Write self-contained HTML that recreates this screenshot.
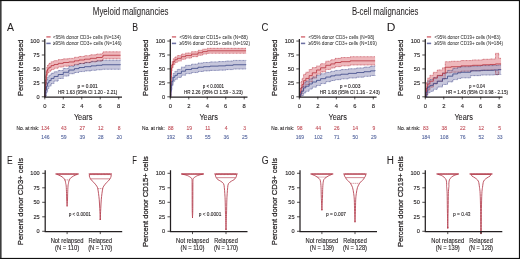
<!DOCTYPE html>
<html><head><meta charset="utf-8"><style>
html,body{margin:0;padding:0;background:#fff;}
svg{display:block;will-change:transform;}
text{font-family:"Liberation Sans", sans-serif;}
</style></head><body>
<svg width="520" height="259" viewBox="0 0 520 259">
<rect x="0" y="0" width="1.6" height="259" fill="#3c3c3c"/>
<rect x="0" y="0" width="520" height="1.1" fill="#111"/>
<rect x="518.9" y="0" width="1.1" height="259" fill="#111"/>
<rect x="0" y="257.9" width="520" height="1.1" fill="#111"/>
<text x="92.80" y="15.00" font-size="10.0" text-anchor="start" fill="#231f20" stroke="#231f20" stroke-width="0.05" textLength="75.7" lengthAdjust="spacingAndGlyphs">Myeloid malignancies</text>
<text x="351.90" y="14.60" font-size="10.0" text-anchor="start" fill="#231f20" stroke="#231f20" stroke-width="0.05" textLength="66.6" lengthAdjust="spacingAndGlyphs">B-cell malignancies</text>
<text transform="translate(6.97,30.9) scale(0.91,1)" font-size="11.5" fill="#231f20" stroke="#231f20" stroke-width="0.05">A</text>
<text transform="translate(22.80,67.75) rotate(-90)" font-size="7.6" text-anchor="middle" fill="#231f20" stroke="#231f20" stroke-width="0.25" textLength="56.5" lengthAdjust="spacingAndGlyphs">Percent relapsed</text>
<path d="M44.80,96.80L45.26,96.80L45.26,84.43L45.72,84.43L45.72,76.08L46.19,76.08L46.19,70.51L46.83,70.51L46.83,67.18L47.57,67.18L47.57,64.97L48.96,64.97L48.96,63.33L51.08,63.33L51.08,61.70L54.04,61.70L54.04,60.64L58.20,60.64L58.20,59.61L63.28,59.61L63.28,58.86L68.82,58.86L68.82,58.39L74.37,58.39L74.37,57.29L78.99,57.29L78.99,56.46L84.53,56.46L84.53,55.63L90.35,55.63L90.35,54.81L96.54,54.81L96.54,53.99L102.09,53.99L102.09,53.44L103.01,53.44L103.01,51.77L120.57,51.77L120.57,51.81L120.57,58.72L120.57,58.76L103.01,58.76L103.01,60.44L102.09,60.44L102.09,61.00L96.54,61.00L96.54,61.85L90.35,61.85L90.35,62.70L84.53,62.70L84.53,63.55L78.99,63.55L78.99,64.40L74.37,64.40L74.37,65.52L68.82,65.52L68.82,66.17L63.28,66.17L63.28,67.09L58.20,67.09L58.20,68.29L54.04,68.29L54.04,69.46L51.08,69.46L51.08,71.18L48.96,71.18L48.96,72.88L47.57,72.88L47.57,75.13L46.83,75.13L46.83,78.49L46.19,78.49L46.19,84.07L45.72,84.07L45.72,92.44L45.26,92.44L45.26,96.80L44.80,96.80Z" fill="#eeb8bc" fill-opacity="1"/>
<path d="M44.80,96.80L45.26,96.80L45.26,90.43L45.72,90.43L45.72,84.13L46.46,84.13L46.46,80.34L47.57,80.34L47.57,77.17L48.96,77.17L48.96,75.16L51.08,75.16L51.08,73.27L54.04,73.27L54.04,71.79L58.20,71.79L58.20,70.49L63.28,70.49L63.28,68.42L68.82,68.42L68.82,66.36L74.37,66.36L74.37,64.77L78.99,64.77L78.99,63.49L84.53,63.49L84.53,62.46L91.00,62.46L91.00,61.40L96.54,61.40L96.54,60.81L102.09,60.81L102.09,60.22L120.57,60.22L120.57,59.84L120.57,69.09L120.57,69.27L102.09,69.27L102.09,69.79L96.54,69.79L96.54,70.32L91.00,70.32L91.00,70.93L84.53,70.93L84.53,71.57L78.99,71.57L78.99,72.52L74.37,72.52L74.37,73.72L68.82,73.72L68.82,76.12L63.28,76.12L63.28,78.51L58.20,78.51L58.20,81.12L54.04,81.12L54.04,83.53L51.08,83.53L51.08,86.10L48.96,86.10L48.96,88.55L47.57,88.55L47.57,92.07L46.46,92.07L46.46,96.09L45.72,96.09L45.72,96.48L45.26,96.48L45.26,96.80L44.80,96.80Z" fill="#a4a4c6" fill-opacity="0.62"/>
<path d="M44.80,96.80L45.26,96.80L45.26,84.43L45.72,84.43L45.72,76.08L46.19,76.08L46.19,70.51L46.83,70.51L46.83,67.18L47.57,67.18L47.57,64.97L48.96,64.97L48.96,63.33L51.08,63.33L51.08,61.70L54.04,61.70L54.04,60.64L58.20,60.64L58.20,59.61L63.28,59.61L63.28,58.86L68.82,58.86L68.82,58.39L74.37,58.39L74.37,57.29L78.99,57.29L78.99,56.46L84.53,56.46L84.53,55.63L90.35,55.63L90.35,54.81L96.54,54.81L96.54,53.99L102.09,53.99L102.09,53.44L103.01,53.44L103.01,51.77L120.57,51.77L120.57,51.81" fill="none" stroke="#c94f5b" stroke-width="0.7" stroke-dasharray="0.9,0.5" style="mix-blend-mode:multiply"/>
<path d="M44.80,96.80L45.26,96.80L45.26,92.44L45.72,92.44L45.72,84.07L46.19,84.07L46.19,78.49L46.83,78.49L46.83,75.13L47.57,75.13L47.57,72.88L48.96,72.88L48.96,71.18L51.08,71.18L51.08,69.46L54.04,69.46L54.04,68.29L58.20,68.29L58.20,67.09L63.28,67.09L63.28,66.17L68.82,66.17L68.82,65.52L74.37,65.52L74.37,64.40L78.99,64.40L78.99,63.55L84.53,63.55L84.53,62.70L90.35,62.70L90.35,61.85L96.54,61.85L96.54,61.00L102.09,61.00L102.09,60.44L103.01,60.44L103.01,58.76L120.57,58.76L120.57,58.72" fill="none" stroke="#c94f5b" stroke-width="0.7" stroke-dasharray="0.9,0.5" style="mix-blend-mode:multiply"/>
<path d="M44.80,96.80L45.26,96.80L45.26,90.43L45.72,90.43L45.72,84.13L46.46,84.13L46.46,80.34L47.57,80.34L47.57,77.17L48.96,77.17L48.96,75.16L51.08,75.16L51.08,73.27L54.04,73.27L54.04,71.79L58.20,71.79L58.20,70.49L63.28,70.49L63.28,68.42L68.82,68.42L68.82,66.36L74.37,66.36L74.37,64.77L78.99,64.77L78.99,63.49L84.53,63.49L84.53,62.46L91.00,62.46L91.00,61.40L96.54,61.40L96.54,60.81L102.09,60.81L102.09,60.22L120.57,60.22L120.57,59.84" fill="none" stroke="#5c63a0" stroke-width="0.7" stroke-dasharray="0.9,0.5" style="mix-blend-mode:multiply"/>
<path d="M44.80,96.80L45.26,96.80L45.26,96.48L45.72,96.48L45.72,96.09L46.46,96.09L46.46,92.07L47.57,92.07L47.57,88.55L48.96,88.55L48.96,86.10L51.08,86.10L51.08,83.53L54.04,83.53L54.04,81.12L58.20,81.12L58.20,78.51L63.28,78.51L63.28,76.12L68.82,76.12L68.82,73.72L74.37,73.72L74.37,72.52L78.99,72.52L78.99,71.57L84.53,71.57L84.53,70.93L91.00,70.93L91.00,70.32L96.54,70.32L96.54,69.79L102.09,69.79L102.09,69.27L120.57,69.27L120.57,69.09" fill="none" stroke="#5c63a0" stroke-width="0.7" stroke-dasharray="0.9,0.5" style="mix-blend-mode:multiply"/>
<path d="M44.80,96.80H45.26V88.44H45.72V80.07H46.19V74.50H46.83V71.16H47.57V68.92H48.96V67.25H51.08V65.58H54.04V64.47H58.20V63.35H63.28V62.51H68.82V61.96H74.37V60.84H78.99V60.00H84.53V59.17H90.35V58.33H96.54V57.50H102.09V56.94H103.01V55.27H120.57V55.27" fill="none" stroke="#b8323e" stroke-width="0.8"/>
<path d="M44.80,96.80H45.26V93.45H45.72V90.11H46.46V86.21H47.57V82.86H48.96V80.63H51.08V78.40H54.04V76.45H58.20V74.50H63.28V72.27H68.82V70.04H74.37V68.65H78.99V67.53H84.53V66.69H91.00V65.86H96.54V65.30H102.09V64.74H120.57V64.47" fill="none" stroke="#3a4585" stroke-width="0.8"/>
<path d="M44.80,39.1V97.0H122.00" fill="none" stroke="#231f20" stroke-width="1.25"/>
<path d="M41.80,96.80H44.80" stroke="#231f20" stroke-width="0.8"/>
<text x="39.50" y="98.80" font-size="5.6" text-anchor="end" fill="#231f20" stroke="#231f20" stroke-width="0.12">0</text>
<path d="M41.80,82.86H44.80" stroke="#231f20" stroke-width="0.8"/>
<text x="39.50" y="84.86" font-size="5.6" text-anchor="end" fill="#231f20" stroke="#231f20" stroke-width="0.12">25</text>
<path d="M41.80,68.92H44.80" stroke="#231f20" stroke-width="0.8"/>
<text x="39.50" y="70.92" font-size="5.6" text-anchor="end" fill="#231f20" stroke="#231f20" stroke-width="0.12">50</text>
<path d="M41.80,54.99H44.80" stroke="#231f20" stroke-width="0.8"/>
<text x="39.50" y="56.99" font-size="5.6" text-anchor="end" fill="#231f20" stroke="#231f20" stroke-width="0.12">75</text>
<path d="M41.80,41.05H44.80" stroke="#231f20" stroke-width="0.8"/>
<text x="39.50" y="43.05" font-size="5.6" text-anchor="end" fill="#231f20" stroke="#231f20" stroke-width="0.12">100</text>
<path d="M44.80,96.8V99.39999999999999" stroke="#231f20" stroke-width="0.8"/>
<text x="44.80" y="108.30" font-size="5.8" text-anchor="middle" fill="#231f20" stroke="#231f20" stroke-width="0.12">0</text>
<path d="M63.28,96.8V99.39999999999999" stroke="#231f20" stroke-width="0.8"/>
<text x="63.28" y="108.30" font-size="5.8" text-anchor="middle" fill="#231f20" stroke="#231f20" stroke-width="0.12">2</text>
<path d="M81.76,96.8V99.39999999999999" stroke="#231f20" stroke-width="0.8"/>
<text x="81.76" y="108.30" font-size="5.8" text-anchor="middle" fill="#231f20" stroke="#231f20" stroke-width="0.12">4</text>
<path d="M100.24,96.8V99.39999999999999" stroke="#231f20" stroke-width="0.8"/>
<text x="100.24" y="108.30" font-size="5.8" text-anchor="middle" fill="#231f20" stroke="#231f20" stroke-width="0.12">6</text>
<path d="M118.72,96.8V99.39999999999999" stroke="#231f20" stroke-width="0.8"/>
<text x="118.72" y="108.30" font-size="5.8" text-anchor="middle" fill="#231f20" stroke="#231f20" stroke-width="0.12">8</text>
<text x="83.15" y="120.00" font-size="8.4" text-anchor="middle" fill="#231f20" stroke="#231f20" stroke-width="0.08" textLength="18.5" lengthAdjust="spacingAndGlyphs">Years</text>
<path d="M46.40,36.9h4.2" stroke="#eeb8bc" stroke-width="1.8"/>
<path d="M46.40,36.9h4.2" stroke="#b8323e" stroke-width="0.6"/>
<path d="M46.40,43.4h4.2" stroke="#a4a4c6" stroke-width="1.8"/>
<path d="M46.40,43.4h4.2" stroke="#3a4585" stroke-width="0.6"/>
<text x="52.90" y="38.90" font-size="5.3" text-anchor="start" fill="#3a3a3a" stroke="#3a3a3a" stroke-width="0.05" textLength="68.0" lengthAdjust="spacingAndGlyphs">&lt;95% donor CD3+ cells (N=134)</text>
<text x="52.90" y="45.20" font-size="5.3" text-anchor="start" fill="#3a3a3a" stroke="#3a3a3a" stroke-width="0.05" textLength="68.8" lengthAdjust="spacingAndGlyphs">≥95% donor CD3+ cells (N=146)</text>
<text x="77.60" y="87.60" font-size="5.3" text-anchor="start" fill="#231f20" stroke="#231f20" stroke-width="0.12" textLength="20.2" lengthAdjust="spacingAndGlyphs">p = 0.001</text>
<text x="58.00" y="94.10" font-size="5.3" text-anchor="start" fill="#231f20" stroke="#231f20" stroke-width="0.12" textLength="59.3" lengthAdjust="spacingAndGlyphs">HR 1.63 (95% CI 1.20 - 2.21)</text>
<text x="16.50" y="129.70" font-size="5.0" text-anchor="start" fill="#231f20" stroke="#231f20" stroke-width="0.1" textLength="22.8" lengthAdjust="spacingAndGlyphs">No. at risk:</text>
<text x="45.30" y="129.90" font-size="5.0" text-anchor="middle" fill="#c2505a" stroke="#c2505a" stroke-width="0.1">134</text>
<text x="45.30" y="138.50" font-size="5.0" text-anchor="middle" fill="#56679f" stroke="#56679f" stroke-width="0.1">146</text>
<text x="63.78" y="129.90" font-size="5.0" text-anchor="middle" fill="#c2505a" stroke="#c2505a" stroke-width="0.1">43</text>
<text x="63.78" y="138.50" font-size="5.0" text-anchor="middle" fill="#56679f" stroke="#56679f" stroke-width="0.1">59</text>
<text x="82.26" y="129.90" font-size="5.0" text-anchor="middle" fill="#c2505a" stroke="#c2505a" stroke-width="0.1">27</text>
<text x="82.26" y="138.50" font-size="5.0" text-anchor="middle" fill="#56679f" stroke="#56679f" stroke-width="0.1">39</text>
<text x="100.74" y="129.90" font-size="5.0" text-anchor="middle" fill="#c2505a" stroke="#c2505a" stroke-width="0.1">12</text>
<text x="100.74" y="138.50" font-size="5.0" text-anchor="middle" fill="#56679f" stroke="#56679f" stroke-width="0.1">28</text>
<text x="119.22" y="129.90" font-size="5.0" text-anchor="middle" fill="#c2505a" stroke="#c2505a" stroke-width="0.1">8</text>
<text x="119.22" y="138.50" font-size="5.0" text-anchor="middle" fill="#56679f" stroke="#56679f" stroke-width="0.1">20</text>
<text transform="translate(132.29,30.9) scale(0.76,1)" font-size="11.5" fill="#231f20" stroke="#231f20" stroke-width="0.05">B</text>
<text transform="translate(148.30,67.75) rotate(-90)" font-size="7.6" text-anchor="middle" fill="#231f20" stroke="#231f20" stroke-width="0.25" textLength="56.5" lengthAdjust="spacingAndGlyphs">Percent relapsed</text>
<path d="M170.30,96.80L170.67,96.80L170.67,82.76L171.04,82.76L171.04,71.62L171.50,71.62L171.50,64.94L172.15,64.94L172.15,61.61L173.16,61.61L173.16,58.84L174.92,58.84L174.92,56.92L177.32,56.92L177.32,55.58L181.39,55.58L181.39,54.00L185.64,54.00L185.64,52.97L191.55,52.97L191.55,51.65L198.02,51.65L198.02,50.27L202.64,50.27L202.64,49.16L207.26,49.16L207.26,48.33L246.07,48.33L246.07,48.41L246.07,53.20L246.07,53.28L207.26,53.28L207.26,54.12L202.64,54.12L202.64,55.25L198.02,55.25L198.02,56.65L191.55,56.65L191.55,58.12L185.64,58.12L185.64,59.32L181.39,59.32L181.39,61.08L177.32,61.08L177.32,62.53L174.92,62.53L174.92,64.52L173.16,64.52L173.16,67.32L172.15,67.32L172.15,70.68L171.50,70.68L171.50,77.38L171.04,77.38L171.04,88.54L170.67,88.54L170.67,96.80L170.30,96.80Z" fill="#eeb8bc" fill-opacity="1"/>
<path d="M170.30,96.80L170.76,96.80L170.76,87.97L171.22,87.97L171.22,81.73L171.96,81.73L171.96,77.26L173.16,77.26L173.16,73.34L174.92,73.34L174.92,71.36L177.32,71.36L177.32,69.38L181.39,69.38L181.39,67.09L185.64,67.09L185.64,65.35L191.55,65.35L191.55,64.18L198.02,64.18L198.02,63.04L203.56,63.04L203.56,62.47L210.03,62.47L210.03,61.89L218.35,61.89L218.35,61.59L225.74,61.59L225.74,61.01L233.13,61.01L233.13,60.43L246.07,60.43L246.07,60.12L246.07,68.81L246.07,69.05L233.13,69.05L233.13,69.59L225.74,69.59L225.74,70.13L218.35,70.13L218.35,70.38L210.03,70.38L210.03,70.92L203.56,70.92L203.56,71.46L198.02,71.46L198.02,72.56L191.55,72.56L191.55,73.62L185.64,73.62L185.64,75.22L181.39,75.22L181.39,77.39L177.32,77.39L177.32,79.31L174.92,79.31L174.92,81.23L173.16,81.23L173.16,85.12L171.96,85.12L171.96,89.57L171.22,89.57L171.22,94.48L170.76,94.48L170.76,96.80L170.30,96.80Z" fill="#a4a4c6" fill-opacity="0.62"/>
<path d="M170.30,96.80L170.67,96.80L170.67,82.76L171.04,82.76L171.04,71.62L171.50,71.62L171.50,64.94L172.15,64.94L172.15,61.61L173.16,61.61L173.16,58.84L174.92,58.84L174.92,56.92L177.32,56.92L177.32,55.58L181.39,55.58L181.39,54.00L185.64,54.00L185.64,52.97L191.55,52.97L191.55,51.65L198.02,51.65L198.02,50.27L202.64,50.27L202.64,49.16L207.26,49.16L207.26,48.33L246.07,48.33L246.07,48.41" fill="none" stroke="#c94f5b" stroke-width="0.7" stroke-dasharray="0.9,0.5" style="mix-blend-mode:multiply"/>
<path d="M170.30,96.80L170.67,96.80L170.67,88.54L171.04,88.54L171.04,77.38L171.50,77.38L171.50,70.68L172.15,70.68L172.15,67.32L173.16,67.32L173.16,64.52L174.92,64.52L174.92,62.53L177.32,62.53L177.32,61.08L181.39,61.08L181.39,59.32L185.64,59.32L185.64,58.12L191.55,58.12L191.55,56.65L198.02,56.65L198.02,55.25L202.64,55.25L202.64,54.12L207.26,54.12L207.26,53.28L246.07,53.28L246.07,53.20" fill="none" stroke="#c94f5b" stroke-width="0.7" stroke-dasharray="0.9,0.5" style="mix-blend-mode:multiply"/>
<path d="M170.30,96.80L170.76,96.80L170.76,87.97L171.22,87.97L171.22,81.73L171.96,81.73L171.96,77.26L173.16,77.26L173.16,73.34L174.92,73.34L174.92,71.36L177.32,71.36L177.32,69.38L181.39,69.38L181.39,67.09L185.64,67.09L185.64,65.35L191.55,65.35L191.55,64.18L198.02,64.18L198.02,63.04L203.56,63.04L203.56,62.47L210.03,62.47L210.03,61.89L218.35,61.89L218.35,61.59L225.74,61.59L225.74,61.01L233.13,61.01L233.13,60.43L246.07,60.43L246.07,60.12" fill="none" stroke="#5c63a0" stroke-width="0.7" stroke-dasharray="0.9,0.5" style="mix-blend-mode:multiply"/>
<path d="M170.30,96.80L170.76,96.80L170.76,94.48L171.22,94.48L171.22,89.57L171.96,89.57L171.96,85.12L173.16,85.12L173.16,81.23L174.92,81.23L174.92,79.31L177.32,79.31L177.32,77.39L181.39,77.39L181.39,75.22L185.64,75.22L185.64,73.62L191.55,73.62L191.55,72.56L198.02,72.56L198.02,71.46L203.56,71.46L203.56,70.92L210.03,70.92L210.03,70.38L218.35,70.38L218.35,70.13L225.74,70.13L225.74,69.59L233.13,69.59L233.13,69.05L246.07,69.05L246.07,68.81" fill="none" stroke="#5c63a0" stroke-width="0.7" stroke-dasharray="0.9,0.5" style="mix-blend-mode:multiply"/>
<path d="M170.30,96.80H170.67V85.65H171.04V74.50H171.50V67.81H172.15V64.47H173.16V61.68H174.92V59.73H177.32V58.33H181.39V56.66H185.64V55.54H191.55V54.15H198.02V52.76H202.64V51.64H207.26V50.81H246.07V50.81" fill="none" stroke="#b8323e" stroke-width="0.8"/>
<path d="M170.30,96.80H170.76V91.22H171.22V85.65H171.96V81.19H173.16V77.29H174.92V75.34H177.32V73.38H181.39V71.16H185.64V69.48H191.55V68.37H198.02V67.25H203.56V66.69H210.03V66.14H218.35V65.86H225.74V65.30H233.13V64.74H246.07V64.47" fill="none" stroke="#3a4585" stroke-width="0.8"/>
<path d="M170.30,39.1V97.0H247.50" fill="none" stroke="#231f20" stroke-width="1.25"/>
<path d="M167.30,96.80H170.30" stroke="#231f20" stroke-width="0.8"/>
<text x="165.00" y="98.80" font-size="5.6" text-anchor="end" fill="#231f20" stroke="#231f20" stroke-width="0.12">0</text>
<path d="M167.30,82.86H170.30" stroke="#231f20" stroke-width="0.8"/>
<text x="165.00" y="84.86" font-size="5.6" text-anchor="end" fill="#231f20" stroke="#231f20" stroke-width="0.12">25</text>
<path d="M167.30,68.92H170.30" stroke="#231f20" stroke-width="0.8"/>
<text x="165.00" y="70.92" font-size="5.6" text-anchor="end" fill="#231f20" stroke="#231f20" stroke-width="0.12">50</text>
<path d="M167.30,54.99H170.30" stroke="#231f20" stroke-width="0.8"/>
<text x="165.00" y="56.99" font-size="5.6" text-anchor="end" fill="#231f20" stroke="#231f20" stroke-width="0.12">75</text>
<path d="M167.30,41.05H170.30" stroke="#231f20" stroke-width="0.8"/>
<text x="165.00" y="43.05" font-size="5.6" text-anchor="end" fill="#231f20" stroke="#231f20" stroke-width="0.12">100</text>
<path d="M170.30,96.8V99.39999999999999" stroke="#231f20" stroke-width="0.8"/>
<text x="170.30" y="108.30" font-size="5.8" text-anchor="middle" fill="#231f20" stroke="#231f20" stroke-width="0.12">0</text>
<path d="M188.78,96.8V99.39999999999999" stroke="#231f20" stroke-width="0.8"/>
<text x="188.78" y="108.30" font-size="5.8" text-anchor="middle" fill="#231f20" stroke="#231f20" stroke-width="0.12">2</text>
<path d="M207.26,96.8V99.39999999999999" stroke="#231f20" stroke-width="0.8"/>
<text x="207.26" y="108.30" font-size="5.8" text-anchor="middle" fill="#231f20" stroke="#231f20" stroke-width="0.12">4</text>
<path d="M225.74,96.8V99.39999999999999" stroke="#231f20" stroke-width="0.8"/>
<text x="225.74" y="108.30" font-size="5.8" text-anchor="middle" fill="#231f20" stroke="#231f20" stroke-width="0.12">6</text>
<path d="M244.22,96.8V99.39999999999999" stroke="#231f20" stroke-width="0.8"/>
<text x="244.22" y="108.30" font-size="5.8" text-anchor="middle" fill="#231f20" stroke="#231f20" stroke-width="0.12">8</text>
<text x="208.65" y="120.00" font-size="8.4" text-anchor="middle" fill="#231f20" stroke="#231f20" stroke-width="0.08" textLength="18.5" lengthAdjust="spacingAndGlyphs">Years</text>
<path d="M171.90,36.9h4.2" stroke="#eeb8bc" stroke-width="1.8"/>
<path d="M171.90,36.9h4.2" stroke="#b8323e" stroke-width="0.6"/>
<path d="M171.90,43.4h4.2" stroke="#a4a4c6" stroke-width="1.8"/>
<path d="M171.90,43.4h4.2" stroke="#3a4585" stroke-width="0.6"/>
<text x="179.50" y="38.90" font-size="5.3" text-anchor="start" fill="#3a3a3a" stroke="#3a3a3a" stroke-width="0.05" textLength="68.2" lengthAdjust="spacingAndGlyphs">&lt;95% donor CD15+ cells (N=88)</text>
<text x="179.50" y="45.20" font-size="5.3" text-anchor="start" fill="#3a3a3a" stroke="#3a3a3a" stroke-width="0.05" textLength="70.5" lengthAdjust="spacingAndGlyphs">≥95% donor CD15+ cells (N=192)</text>
<text x="202.80" y="87.60" font-size="5.3" text-anchor="start" fill="#231f20" stroke="#231f20" stroke-width="0.12" textLength="21.2" lengthAdjust="spacingAndGlyphs">p &lt; 0.0001</text>
<text x="184.00" y="94.10" font-size="5.3" text-anchor="start" fill="#231f20" stroke="#231f20" stroke-width="0.12" textLength="58.7" lengthAdjust="spacingAndGlyphs">HR 2.26 (95% CI 1.59 - 3.23)</text>
<text x="142.00" y="129.70" font-size="5.0" text-anchor="start" fill="#231f20" stroke="#231f20" stroke-width="0.1" textLength="22.8" lengthAdjust="spacingAndGlyphs">No. at risk:</text>
<text x="170.80" y="129.90" font-size="5.0" text-anchor="middle" fill="#c2505a" stroke="#c2505a" stroke-width="0.1">88</text>
<text x="170.80" y="138.50" font-size="5.0" text-anchor="middle" fill="#56679f" stroke="#56679f" stroke-width="0.1">192</text>
<text x="189.28" y="129.90" font-size="5.0" text-anchor="middle" fill="#c2505a" stroke="#c2505a" stroke-width="0.1">19</text>
<text x="189.28" y="138.50" font-size="5.0" text-anchor="middle" fill="#56679f" stroke="#56679f" stroke-width="0.1">83</text>
<text x="207.76" y="129.90" font-size="5.0" text-anchor="middle" fill="#c2505a" stroke="#c2505a" stroke-width="0.1">11</text>
<text x="207.76" y="138.50" font-size="5.0" text-anchor="middle" fill="#56679f" stroke="#56679f" stroke-width="0.1">55</text>
<text x="226.24" y="129.90" font-size="5.0" text-anchor="middle" fill="#c2505a" stroke="#c2505a" stroke-width="0.1">4</text>
<text x="226.24" y="138.50" font-size="5.0" text-anchor="middle" fill="#56679f" stroke="#56679f" stroke-width="0.1">36</text>
<text x="244.72" y="129.90" font-size="5.0" text-anchor="middle" fill="#c2505a" stroke="#c2505a" stroke-width="0.1">3</text>
<text x="244.72" y="138.50" font-size="5.0" text-anchor="middle" fill="#56679f" stroke="#56679f" stroke-width="0.1">25</text>
<text transform="translate(261.54,30.9) scale(0.83,1)" font-size="11.5" fill="#231f20" stroke="#231f20" stroke-width="0.05">C</text>
<text transform="translate(277.35,67.75) rotate(-90)" font-size="7.6" text-anchor="middle" fill="#231f20" stroke="#231f20" stroke-width="0.25" textLength="56.5" lengthAdjust="spacingAndGlyphs">Percent relapsed</text>
<path d="M299.35,96.80L300.09,96.80L300.09,88.08L301.01,88.08L301.01,81.53L302.12,81.53L302.12,78.22L303.60,78.22L303.60,74.37L305.82,74.37L305.82,72.21L309.14,72.21L309.14,69.54L312.29,69.54L312.29,67.58L316.54,67.58L316.54,65.91L320.60,65.91L320.60,63.68L325.78,63.68L325.78,61.17L330.77,61.17L330.77,59.77L335.02,59.77L335.02,58.37L340.93,58.37L340.93,57.53L350.17,57.53L350.17,56.68L375.12,56.68L375.12,56.66L375.12,65.02L375.12,65.00L350.17,65.00L350.17,65.83L340.93,65.83L340.93,66.66L335.02,66.66L335.02,68.05L330.77,68.05L330.77,69.44L325.78,69.44L325.78,71.94L320.60,71.94L320.60,74.17L316.54,74.17L316.54,78.07L312.29,78.07L312.29,81.69L309.14,81.69L309.14,84.59L305.82,84.59L305.82,86.90L303.60,86.90L303.60,90.85L302.12,90.85L302.12,94.23L301.01,94.23L301.01,96.60L300.09,96.60L300.09,96.80L299.35,96.80Z" fill="#eeb8bc" fill-opacity="1"/>
<path d="M299.35,96.80L300.27,96.80L300.27,91.90L301.66,91.90L301.66,86.99L303.60,86.99L303.60,82.79L305.82,82.79L305.82,81.11L309.14,81.11L309.14,78.87L312.29,78.87L312.29,76.91L316.54,76.91L316.54,75.22L320.60,75.22L320.60,73.77L325.78,73.77L325.78,72.44L330.77,72.44L330.77,71.27L335.02,71.27L335.02,70.43L340.93,70.43L340.93,69.59L348.32,69.59L348.32,68.76L356.64,68.76L356.64,67.92L364.03,67.92L364.03,67.09L370.50,67.09L370.50,66.25L375.12,66.25L375.12,65.69L375.12,74.95L375.12,75.50L370.50,75.50L370.50,76.34L364.03,76.34L364.03,77.18L356.64,77.18L356.64,78.01L348.32,78.01L348.32,78.85L340.93,78.85L340.93,79.68L335.02,79.68L335.02,80.52L330.77,80.52L330.77,81.69L325.78,81.69L325.78,83.59L320.60,83.59L320.60,85.48L316.54,85.48L316.54,87.14L312.29,87.14L312.29,89.08L309.14,89.08L309.14,91.30L305.82,91.30L305.82,92.97L303.60,92.97L303.60,95.46L301.66,95.46L301.66,96.13L300.27,96.13L300.27,96.80L299.35,96.80Z" fill="#a4a4c6" fill-opacity="0.62"/>
<path d="M299.35,96.80L300.09,96.80L300.09,88.08L301.01,88.08L301.01,81.53L302.12,81.53L302.12,78.22L303.60,78.22L303.60,74.37L305.82,74.37L305.82,72.21L309.14,72.21L309.14,69.54L312.29,69.54L312.29,67.58L316.54,67.58L316.54,65.91L320.60,65.91L320.60,63.68L325.78,63.68L325.78,61.17L330.77,61.17L330.77,59.77L335.02,59.77L335.02,58.37L340.93,58.37L340.93,57.53L350.17,57.53L350.17,56.68L375.12,56.68L375.12,56.66" fill="none" stroke="#c94f5b" stroke-width="0.7" stroke-dasharray="0.9,0.5" style="mix-blend-mode:multiply"/>
<path d="M299.35,96.80L300.09,96.80L300.09,96.60L301.01,96.60L301.01,94.23L302.12,94.23L302.12,90.85L303.60,90.85L303.60,86.90L305.82,86.90L305.82,84.59L309.14,84.59L309.14,81.69L312.29,81.69L312.29,78.07L316.54,78.07L316.54,74.17L320.60,74.17L320.60,71.94L325.78,71.94L325.78,69.44L330.77,69.44L330.77,68.05L335.02,68.05L335.02,66.66L340.93,66.66L340.93,65.83L350.17,65.83L350.17,65.00L375.12,65.00L375.12,65.02" fill="none" stroke="#c94f5b" stroke-width="0.7" stroke-dasharray="0.9,0.5" style="mix-blend-mode:multiply"/>
<path d="M299.35,96.80L300.27,96.80L300.27,91.90L301.66,91.90L301.66,86.99L303.60,86.99L303.60,82.79L305.82,82.79L305.82,81.11L309.14,81.11L309.14,78.87L312.29,78.87L312.29,76.91L316.54,76.91L316.54,75.22L320.60,75.22L320.60,73.77L325.78,73.77L325.78,72.44L330.77,72.44L330.77,71.27L335.02,71.27L335.02,70.43L340.93,70.43L340.93,69.59L348.32,69.59L348.32,68.76L356.64,68.76L356.64,67.92L364.03,67.92L364.03,67.09L370.50,67.09L370.50,66.25L375.12,66.25L375.12,65.69" fill="none" stroke="#5c63a0" stroke-width="0.7" stroke-dasharray="0.9,0.5" style="mix-blend-mode:multiply"/>
<path d="M299.35,96.80L300.27,96.80L300.27,96.13L301.66,96.13L301.66,95.46L303.60,95.46L303.60,92.97L305.82,92.97L305.82,91.30L309.14,91.30L309.14,89.08L312.29,89.08L312.29,87.14L316.54,87.14L316.54,85.48L320.60,85.48L320.60,83.59L325.78,83.59L325.78,81.69L330.77,81.69L330.77,80.52L335.02,80.52L335.02,79.68L340.93,79.68L340.93,78.85L348.32,78.85L348.32,78.01L356.64,78.01L356.64,77.18L364.03,77.18L364.03,76.34L370.50,76.34L370.50,75.50L375.12,75.50L375.12,74.95" fill="none" stroke="#5c63a0" stroke-width="0.7" stroke-dasharray="0.9,0.5" style="mix-blend-mode:multiply"/>
<path d="M299.35,96.80H300.09V92.34H301.01V87.88H302.12V84.53H303.60V80.63H305.82V78.40H309.14V75.61H312.29V72.83H316.54V70.04H320.60V67.81H325.78V65.30H330.77V63.91H335.02V62.51H340.93V61.68H350.17V60.84H375.12V60.84" fill="none" stroke="#b8323e" stroke-width="0.8"/>
<path d="M299.35,96.80H300.27V94.01H301.66V91.22H303.60V87.88H305.82V86.21H309.14V83.98H312.29V82.03H316.54V80.35H320.60V78.68H325.78V77.06H330.77V75.89H335.02V75.06H340.93V74.22H348.32V73.38H356.64V72.55H364.03V71.71H370.50V70.88H375.12V70.32" fill="none" stroke="#3a4585" stroke-width="0.8"/>
<path d="M299.35,39.1V97.0H376.55" fill="none" stroke="#231f20" stroke-width="1.25"/>
<path d="M296.35,96.80H299.35" stroke="#231f20" stroke-width="0.8"/>
<text x="294.05" y="98.80" font-size="5.6" text-anchor="end" fill="#231f20" stroke="#231f20" stroke-width="0.12">0</text>
<path d="M296.35,82.86H299.35" stroke="#231f20" stroke-width="0.8"/>
<text x="294.05" y="84.86" font-size="5.6" text-anchor="end" fill="#231f20" stroke="#231f20" stroke-width="0.12">25</text>
<path d="M296.35,68.92H299.35" stroke="#231f20" stroke-width="0.8"/>
<text x="294.05" y="70.92" font-size="5.6" text-anchor="end" fill="#231f20" stroke="#231f20" stroke-width="0.12">50</text>
<path d="M296.35,54.99H299.35" stroke="#231f20" stroke-width="0.8"/>
<text x="294.05" y="56.99" font-size="5.6" text-anchor="end" fill="#231f20" stroke="#231f20" stroke-width="0.12">75</text>
<path d="M296.35,41.05H299.35" stroke="#231f20" stroke-width="0.8"/>
<text x="294.05" y="43.05" font-size="5.6" text-anchor="end" fill="#231f20" stroke="#231f20" stroke-width="0.12">100</text>
<path d="M299.35,96.8V99.39999999999999" stroke="#231f20" stroke-width="0.8"/>
<text x="299.35" y="108.30" font-size="5.8" text-anchor="middle" fill="#231f20" stroke="#231f20" stroke-width="0.12">0</text>
<path d="M317.83,96.8V99.39999999999999" stroke="#231f20" stroke-width="0.8"/>
<text x="317.83" y="108.30" font-size="5.8" text-anchor="middle" fill="#231f20" stroke="#231f20" stroke-width="0.12">2</text>
<path d="M336.31,96.8V99.39999999999999" stroke="#231f20" stroke-width="0.8"/>
<text x="336.31" y="108.30" font-size="5.8" text-anchor="middle" fill="#231f20" stroke="#231f20" stroke-width="0.12">4</text>
<path d="M354.79,96.8V99.39999999999999" stroke="#231f20" stroke-width="0.8"/>
<text x="354.79" y="108.30" font-size="5.8" text-anchor="middle" fill="#231f20" stroke="#231f20" stroke-width="0.12">6</text>
<path d="M373.27,96.8V99.39999999999999" stroke="#231f20" stroke-width="0.8"/>
<text x="373.27" y="108.30" font-size="5.8" text-anchor="middle" fill="#231f20" stroke="#231f20" stroke-width="0.12">8</text>
<text x="337.70" y="120.00" font-size="8.4" text-anchor="middle" fill="#231f20" stroke="#231f20" stroke-width="0.08" textLength="18.5" lengthAdjust="spacingAndGlyphs">Years</text>
<path d="M300.95,36.9h4.2" stroke="#eeb8bc" stroke-width="1.8"/>
<path d="M300.95,36.9h4.2" stroke="#b8323e" stroke-width="0.6"/>
<path d="M300.95,43.4h4.2" stroke="#a4a4c6" stroke-width="1.8"/>
<path d="M300.95,43.4h4.2" stroke="#3a4585" stroke-width="0.6"/>
<text x="308.50" y="38.90" font-size="5.3" text-anchor="start" fill="#3a3a3a" stroke="#3a3a3a" stroke-width="0.05" textLength="65.9" lengthAdjust="spacingAndGlyphs">&lt;95% donor CD3+ cells (N=98)</text>
<text x="308.50" y="45.20" font-size="5.3" text-anchor="start" fill="#3a3a3a" stroke="#3a3a3a" stroke-width="0.05" textLength="68.2" lengthAdjust="spacingAndGlyphs">≥95% donor CD3+ cells (N=169)</text>
<text x="339.80" y="87.60" font-size="5.3" text-anchor="start" fill="#231f20" stroke="#231f20" stroke-width="0.12" textLength="20.6" lengthAdjust="spacingAndGlyphs">p = 0.003</text>
<text x="319.70" y="94.10" font-size="5.3" text-anchor="start" fill="#231f20" stroke="#231f20" stroke-width="0.12" textLength="60.1" lengthAdjust="spacingAndGlyphs">HR 1.68 (95% CI 1.16 - 2.43)</text>
<text x="271.30" y="129.70" font-size="5.0" text-anchor="start" fill="#231f20" stroke="#231f20" stroke-width="0.1" textLength="22.8" lengthAdjust="spacingAndGlyphs">No. at risk:</text>
<text x="299.85" y="129.90" font-size="5.0" text-anchor="middle" fill="#c2505a" stroke="#c2505a" stroke-width="0.1">98</text>
<text x="299.85" y="138.50" font-size="5.0" text-anchor="middle" fill="#56679f" stroke="#56679f" stroke-width="0.1">169</text>
<text x="318.33" y="129.90" font-size="5.0" text-anchor="middle" fill="#c2505a" stroke="#c2505a" stroke-width="0.1">44</text>
<text x="318.33" y="138.50" font-size="5.0" text-anchor="middle" fill="#56679f" stroke="#56679f" stroke-width="0.1">102</text>
<text x="336.81" y="129.90" font-size="5.0" text-anchor="middle" fill="#c2505a" stroke="#c2505a" stroke-width="0.1">26</text>
<text x="336.81" y="138.50" font-size="5.0" text-anchor="middle" fill="#56679f" stroke="#56679f" stroke-width="0.1">71</text>
<text x="355.29" y="129.90" font-size="5.0" text-anchor="middle" fill="#c2505a" stroke="#c2505a" stroke-width="0.1">14</text>
<text x="355.29" y="138.50" font-size="5.0" text-anchor="middle" fill="#56679f" stroke="#56679f" stroke-width="0.1">50</text>
<text x="373.77" y="129.90" font-size="5.0" text-anchor="middle" fill="#c2505a" stroke="#c2505a" stroke-width="0.1">9</text>
<text x="373.77" y="138.50" font-size="5.0" text-anchor="middle" fill="#56679f" stroke="#56679f" stroke-width="0.1">29</text>
<text transform="translate(386.77,30.9) scale(1.04,1)" font-size="11.5" fill="#231f20" stroke="#231f20" stroke-width="0.05">D</text>
<text transform="translate(403.30,67.75) rotate(-90)" font-size="7.6" text-anchor="middle" fill="#231f20" stroke="#231f20" stroke-width="0.25" textLength="56.5" lengthAdjust="spacingAndGlyphs">Percent relapsed</text>
<path d="M425.30,96.80L425.76,96.80L425.76,88.33L426.41,88.33L426.41,82.44L427.70,82.44L427.70,78.01L429.92,78.01L429.92,75.28L433.34,75.28L433.34,72.30L437.31,72.30L437.31,69.88L442.49,69.88L442.49,67.78L445.26,67.78L445.26,61.70L451.17,61.70L451.17,61.24L460.97,61.24L460.97,60.56L472.42,60.56L472.42,59.91L482.59,59.91L482.59,59.27L489.98,59.27L489.98,58.93L495.52,58.93L495.52,53.31L498.76,53.31L498.76,58.33L501.07,58.33L501.07,58.33L501.07,69.48L501.07,69.48L498.76,69.48L498.76,74.50L495.52,74.50L495.52,70.00L489.98,70.00L489.98,70.22L482.59,70.22L482.59,70.69L472.42,70.69L472.42,71.16L460.97,71.16L460.97,72.15L451.17,72.15L451.17,72.80L445.26,72.80L445.26,78.99L442.49,78.99L442.49,81.35L437.31,81.35L437.31,83.95L433.34,83.95L433.34,87.10L429.92,87.10L429.92,89.94L427.70,89.94L427.70,94.43L426.41,94.43L426.41,96.35L425.76,96.35L425.76,96.80L425.30,96.80Z" fill="#eeb8bc" fill-opacity="1"/>
<path d="M425.30,96.80L426.22,96.80L426.22,88.33L427.70,88.33L427.70,81.00L429.92,81.00L429.92,79.41L433.34,79.41L433.34,77.50L437.31,77.50L437.31,75.32L442.49,75.32L442.49,72.88L447.48,72.88L447.48,70.43L452.84,70.43L452.84,68.27L457.64,68.27L457.64,67.21L460.97,67.21L460.97,66.69L470.58,66.69L470.58,66.01L480.74,66.01L480.74,65.58L493.68,65.58L493.68,65.30L498.30,65.30L498.30,64.97L501.07,64.97L501.07,64.74L501.07,74.22L501.07,74.44L498.30,74.44L498.30,74.78L493.68,74.78L493.68,75.06L480.74,75.06L480.74,75.63L470.58,75.63L470.58,77.84L460.97,77.84L460.97,78.44L457.64,78.44L457.64,79.62L452.84,79.62L452.84,81.92L447.48,81.92L447.48,84.49L442.49,84.49L442.49,87.06L437.31,87.06L437.31,89.34L433.34,89.34L433.34,91.33L429.92,91.33L429.92,92.98L427.70,92.98L427.70,96.35L426.22,96.35L426.22,96.80L425.30,96.80Z" fill="#a4a4c6" fill-opacity="0.62"/>
<path d="M425.30,96.80L425.76,96.80L425.76,88.33L426.41,88.33L426.41,82.44L427.70,82.44L427.70,78.01L429.92,78.01L429.92,75.28L433.34,75.28L433.34,72.30L437.31,72.30L437.31,69.88L442.49,69.88L442.49,67.78L445.26,67.78L445.26,61.70L451.17,61.70L451.17,61.24L460.97,61.24L460.97,60.56L472.42,60.56L472.42,59.91L482.59,59.91L482.59,59.27L489.98,59.27L489.98,58.93L495.52,58.93L495.52,53.31L498.76,53.31L498.76,58.33L501.07,58.33L501.07,58.33" fill="none" stroke="#c94f5b" stroke-width="0.7" stroke-dasharray="0.9,0.5" style="mix-blend-mode:multiply"/>
<path d="M425.30,96.80L425.76,96.80L425.76,96.35L426.41,96.35L426.41,94.43L427.70,94.43L427.70,89.94L429.92,89.94L429.92,87.10L433.34,87.10L433.34,83.95L437.31,83.95L437.31,81.35L442.49,81.35L442.49,78.99L445.26,78.99L445.26,72.80L451.17,72.80L451.17,72.15L460.97,72.15L460.97,71.16L472.42,71.16L472.42,70.69L482.59,70.69L482.59,70.22L489.98,70.22L489.98,70.00L495.52,70.00L495.52,74.50L498.76,74.50L498.76,69.48L501.07,69.48L501.07,69.48" fill="none" stroke="#c94f5b" stroke-width="0.7" stroke-dasharray="0.9,0.5" style="mix-blend-mode:multiply"/>
<path d="M425.30,96.80L426.22,96.80L426.22,88.33L427.70,88.33L427.70,81.00L429.92,81.00L429.92,79.41L433.34,79.41L433.34,77.50L437.31,77.50L437.31,75.32L442.49,75.32L442.49,72.88L447.48,72.88L447.48,70.43L452.84,70.43L452.84,68.27L457.64,68.27L457.64,67.21L460.97,67.21L460.97,66.69L470.58,66.69L470.58,66.01L480.74,66.01L480.74,65.58L493.68,65.58L493.68,65.30L498.30,65.30L498.30,64.97L501.07,64.97L501.07,64.74" fill="none" stroke="#5c63a0" stroke-width="0.7" stroke-dasharray="0.9,0.5" style="mix-blend-mode:multiply"/>
<path d="M425.30,96.80L426.22,96.80L426.22,96.35L427.70,96.35L427.70,92.98L429.92,92.98L429.92,91.33L433.34,91.33L433.34,89.34L437.31,89.34L437.31,87.06L442.49,87.06L442.49,84.49L447.48,84.49L447.48,81.92L452.84,81.92L452.84,79.62L457.64,79.62L457.64,78.44L460.97,78.44L460.97,77.84L470.58,77.84L470.58,75.63L480.74,75.63L480.74,75.06L493.68,75.06L493.68,74.78L498.30,74.78L498.30,74.44L501.07,74.44L501.07,74.22" fill="none" stroke="#5c63a0" stroke-width="0.7" stroke-dasharray="0.9,0.5" style="mix-blend-mode:multiply"/>
<path d="M425.30,96.80H425.76V92.34H426.41V88.44H427.70V83.98H429.92V81.19H433.34V78.12H437.31V75.61H442.49V73.38H445.26V67.25H451.17V66.69H460.97V65.86H472.42V65.30H482.59V64.74H489.98V64.47H495.52V63.91H498.76V63.91H501.07V63.91" fill="none" stroke="#b8323e" stroke-width="0.8"/>
<path d="M425.30,96.80H426.22V92.34H427.70V86.99H429.92V85.37H433.34V83.42H437.31V81.19H442.49V78.68H447.48V76.17H452.84V73.94H457.64V72.83H460.97V72.27H470.58V70.82H480.74V70.32H493.68V70.04H498.30V69.71H501.07V69.48" fill="none" stroke="#3a4585" stroke-width="0.8"/>
<path d="M425.30,39.1V97.0H502.50" fill="none" stroke="#231f20" stroke-width="1.25"/>
<path d="M422.30,96.80H425.30" stroke="#231f20" stroke-width="0.8"/>
<text x="420.00" y="98.80" font-size="5.6" text-anchor="end" fill="#231f20" stroke="#231f20" stroke-width="0.12">0</text>
<path d="M422.30,82.86H425.30" stroke="#231f20" stroke-width="0.8"/>
<text x="420.00" y="84.86" font-size="5.6" text-anchor="end" fill="#231f20" stroke="#231f20" stroke-width="0.12">25</text>
<path d="M422.30,68.92H425.30" stroke="#231f20" stroke-width="0.8"/>
<text x="420.00" y="70.92" font-size="5.6" text-anchor="end" fill="#231f20" stroke="#231f20" stroke-width="0.12">50</text>
<path d="M422.30,54.99H425.30" stroke="#231f20" stroke-width="0.8"/>
<text x="420.00" y="56.99" font-size="5.6" text-anchor="end" fill="#231f20" stroke="#231f20" stroke-width="0.12">75</text>
<path d="M422.30,41.05H425.30" stroke="#231f20" stroke-width="0.8"/>
<text x="420.00" y="43.05" font-size="5.6" text-anchor="end" fill="#231f20" stroke="#231f20" stroke-width="0.12">100</text>
<path d="M425.30,96.8V99.39999999999999" stroke="#231f20" stroke-width="0.8"/>
<text x="425.30" y="108.30" font-size="5.8" text-anchor="middle" fill="#231f20" stroke="#231f20" stroke-width="0.12">0</text>
<path d="M443.78,96.8V99.39999999999999" stroke="#231f20" stroke-width="0.8"/>
<text x="443.78" y="108.30" font-size="5.8" text-anchor="middle" fill="#231f20" stroke="#231f20" stroke-width="0.12">2</text>
<path d="M462.26,96.8V99.39999999999999" stroke="#231f20" stroke-width="0.8"/>
<text x="462.26" y="108.30" font-size="5.8" text-anchor="middle" fill="#231f20" stroke="#231f20" stroke-width="0.12">4</text>
<path d="M480.74,96.8V99.39999999999999" stroke="#231f20" stroke-width="0.8"/>
<text x="480.74" y="108.30" font-size="5.8" text-anchor="middle" fill="#231f20" stroke="#231f20" stroke-width="0.12">6</text>
<path d="M499.22,96.8V99.39999999999999" stroke="#231f20" stroke-width="0.8"/>
<text x="499.22" y="108.30" font-size="5.8" text-anchor="middle" fill="#231f20" stroke="#231f20" stroke-width="0.12">8</text>
<text x="463.65" y="120.00" font-size="8.4" text-anchor="middle" fill="#231f20" stroke="#231f20" stroke-width="0.08" textLength="18.5" lengthAdjust="spacingAndGlyphs">Years</text>
<path d="M426.90,36.9h4.2" stroke="#eeb8bc" stroke-width="1.8"/>
<path d="M426.90,36.9h4.2" stroke="#b8323e" stroke-width="0.6"/>
<path d="M426.90,43.4h4.2" stroke="#a4a4c6" stroke-width="1.8"/>
<path d="M426.90,43.4h4.2" stroke="#3a4585" stroke-width="0.6"/>
<text x="434.50" y="38.90" font-size="5.3" text-anchor="start" fill="#3a3a3a" stroke="#3a3a3a" stroke-width="0.05" textLength="65.9" lengthAdjust="spacingAndGlyphs">&lt;95% donor CD19+ cells (N=83)</text>
<text x="434.50" y="45.20" font-size="5.3" text-anchor="start" fill="#3a3a3a" stroke="#3a3a3a" stroke-width="0.05" textLength="68.5" lengthAdjust="spacingAndGlyphs">≥95% donor CD19+ cells (N=184)</text>
<text x="469.00" y="87.60" font-size="5.3" text-anchor="start" fill="#231f20" stroke="#231f20" stroke-width="0.12" textLength="16.0" lengthAdjust="spacingAndGlyphs">p = 0.04</text>
<text x="445.70" y="94.10" font-size="5.3" text-anchor="start" fill="#231f20" stroke="#231f20" stroke-width="0.12" textLength="62.2" lengthAdjust="spacingAndGlyphs">HR = 1.45 (95% CI 0.98 - 2.15)</text>
<text x="397.50" y="129.70" font-size="5.0" text-anchor="start" fill="#231f20" stroke="#231f20" stroke-width="0.1" textLength="22.8" lengthAdjust="spacingAndGlyphs">No. at risk:</text>
<text x="425.80" y="129.90" font-size="5.0" text-anchor="middle" fill="#c2505a" stroke="#c2505a" stroke-width="0.1">83</text>
<text x="425.80" y="138.50" font-size="5.0" text-anchor="middle" fill="#56679f" stroke="#56679f" stroke-width="0.1">184</text>
<text x="444.28" y="129.90" font-size="5.0" text-anchor="middle" fill="#c2505a" stroke="#c2505a" stroke-width="0.1">38</text>
<text x="444.28" y="138.50" font-size="5.0" text-anchor="middle" fill="#56679f" stroke="#56679f" stroke-width="0.1">108</text>
<text x="462.76" y="129.90" font-size="5.0" text-anchor="middle" fill="#c2505a" stroke="#c2505a" stroke-width="0.1">22</text>
<text x="462.76" y="138.50" font-size="5.0" text-anchor="middle" fill="#56679f" stroke="#56679f" stroke-width="0.1">76</text>
<text x="481.24" y="129.90" font-size="5.0" text-anchor="middle" fill="#c2505a" stroke="#c2505a" stroke-width="0.1">12</text>
<text x="481.24" y="138.50" font-size="5.0" text-anchor="middle" fill="#56679f" stroke="#56679f" stroke-width="0.1">52</text>
<text x="499.72" y="129.90" font-size="5.0" text-anchor="middle" fill="#c2505a" stroke="#c2505a" stroke-width="0.1">5</text>
<text x="499.72" y="138.50" font-size="5.0" text-anchor="middle" fill="#56679f" stroke="#56679f" stroke-width="0.1">33</text>
<text transform="translate(7.10,163.9) scale(0.78,1)" font-size="11.0" fill="#231f20" stroke="#231f20" stroke-width="0.05">E</text>
<text transform="translate(22.50,201.6) rotate(-90)" font-size="7.6" text-anchor="middle" fill="#231f20" stroke="#231f20" stroke-width="0.25" textLength="87.1" lengthAdjust="spacingAndGlyphs">Percent donor CD3+ cells</text>
<path transform="translate(0,0.6)" d="M67.10,173.30C68.88,173.30 76.05,173.25 77.80,173.30C79.55,173.35 77.97,173.40 77.60,173.59C77.23,173.78 76.32,174.14 75.60,174.46C74.88,174.78 74.05,175.07 73.30,175.50C72.55,175.94 71.63,176.65 71.10,177.07C70.57,177.49 70.47,177.43 70.10,178.00C69.73,178.57 69.17,179.66 68.90,180.49C68.62,181.32 68.60,182.15 68.45,182.99C68.30,183.82 68.13,183.81 68.00,185.48C67.87,187.15 67.73,190.70 67.65,193.02C67.57,195.34 67.59,197.37 67.50,199.40C67.41,201.43 67.17,204.23 67.10,205.20C67.03,206.17 67.10,205.20 67.10,205.20C67.10,205.20 67.17,206.17 67.10,205.20C67.03,204.23 66.79,201.43 66.70,199.40C66.61,197.37 66.63,195.34 66.55,193.02C66.47,190.70 66.33,187.15 66.20,185.48C66.07,183.81 65.90,183.82 65.75,182.99C65.60,182.15 65.58,181.32 65.30,180.49C65.02,179.66 64.47,178.57 64.10,178.00C63.73,177.43 63.63,177.49 63.10,177.07C62.57,176.65 61.65,175.94 60.90,175.50C60.15,175.07 59.32,174.78 58.60,174.46C57.88,174.14 56.97,173.78 56.60,173.59C56.23,173.40 54.65,173.35 56.40,173.30C58.15,173.25 65.32,173.30 67.10,173.30Z" fill="#fff" stroke="#b23a4a" stroke-width="0.85"/>
<path d="M56.70,174.13H77.50" stroke="#b23a4a" stroke-width="1.0"/>
<path transform="translate(0,0.6)" d="M100.25,173.30C102.02,173.30 109.07,173.25 110.85,173.30C112.63,173.35 110.90,173.22 110.95,173.59C111.00,173.96 111.30,174.73 111.15,175.50C111.00,176.28 110.50,177.44 110.05,178.23C109.60,179.02 109.00,179.67 108.45,180.26C107.90,180.85 107.53,180.90 106.75,181.77C105.97,182.64 104.42,184.45 103.75,185.48C103.08,186.51 103.05,186.72 102.75,187.97C102.45,189.23 102.20,191.14 101.95,193.02C101.70,194.90 101.45,196.71 101.25,199.23C101.05,201.74 100.92,204.88 100.75,208.10C100.58,211.32 100.33,216.80 100.25,218.54C100.17,220.28 100.25,218.54 100.25,218.54C100.25,218.54 100.33,220.28 100.25,218.54C100.17,216.80 99.92,211.32 99.75,208.10C99.58,204.88 99.45,201.74 99.25,199.23C99.05,196.71 98.80,194.90 98.55,193.02C98.30,191.14 98.05,189.23 97.75,187.97C97.45,186.72 97.42,186.51 96.75,185.48C96.08,184.45 94.53,182.64 93.75,181.77C92.97,180.90 92.60,180.85 92.05,180.26C91.50,179.67 90.90,179.02 90.45,178.23C90.00,177.44 89.50,176.28 89.35,175.50C89.20,174.73 89.50,173.96 89.55,173.59C89.60,173.22 87.87,173.35 89.65,173.30C91.43,173.25 98.48,173.30 100.25,173.30Z" fill="#fff" stroke="#b23a4a" stroke-width="0.85"/>
<path d="M89.95,174.13H110.55" stroke="#b23a4a" stroke-width="1.0"/>
<path d="M64.70,179.87H69.50" stroke="#b23a4a" stroke-width="0.6" stroke-dasharray="1.2,0.8"/>
<path d="M90.05,174.60H110.45" stroke="#b23a4a" stroke-width="0.6" stroke-dasharray="0.7,0.7"/>
<path d="M90.45,178.83H110.05" stroke="#b23a4a" stroke-width="0.6"/>
<path d="M97.65,188.57H102.85" stroke="#b23a4a" stroke-width="0.6" stroke-dasharray="1.2,0.8"/>
<path d="M45.20,170.3V231.5H122.20" fill="none" stroke="#231f20" stroke-width="1.25"/>
<path d="M42.20,231.30H45.20" stroke="#231f20" stroke-width="0.8"/>
<text x="39.70" y="233.30" font-size="5.6" text-anchor="end" fill="#231f20" stroke="#231f20" stroke-width="0.12">0</text>
<path d="M42.20,216.80H45.20" stroke="#231f20" stroke-width="0.8"/>
<text x="39.70" y="218.80" font-size="5.6" text-anchor="end" fill="#231f20" stroke="#231f20" stroke-width="0.12">25</text>
<path d="M42.20,202.30H45.20" stroke="#231f20" stroke-width="0.8"/>
<text x="39.70" y="204.30" font-size="5.6" text-anchor="end" fill="#231f20" stroke="#231f20" stroke-width="0.12">50</text>
<path d="M42.20,187.80H45.20" stroke="#231f20" stroke-width="0.8"/>
<text x="39.70" y="189.80" font-size="5.6" text-anchor="end" fill="#231f20" stroke="#231f20" stroke-width="0.12">75</text>
<path d="M42.20,173.30H45.20" stroke="#231f20" stroke-width="0.8"/>
<text x="39.70" y="175.30" font-size="5.6" text-anchor="end" fill="#231f20" stroke="#231f20" stroke-width="0.12">100</text>
<path d="M67.10,231.3V234.10000000000002" stroke="#231f20" stroke-width="0.8"/>
<text x="67.10" y="242.70" font-size="6.5" text-anchor="middle" fill="#231f20" stroke="#231f20" stroke-width="0.12" textLength="32.9" lengthAdjust="spacingAndGlyphs">Not relapsed</text>
<text x="67.10" y="250.30" font-size="6.5" text-anchor="middle" fill="#231f20" stroke="#231f20" stroke-width="0.12" textLength="24.1" lengthAdjust="spacingAndGlyphs">(N = 110)</text>
<path d="M100.25,231.3V234.10000000000002" stroke="#231f20" stroke-width="0.8"/>
<text x="100.25" y="242.70" font-size="6.5" text-anchor="middle" fill="#231f20" stroke="#231f20" stroke-width="0.12" textLength="23.6" lengthAdjust="spacingAndGlyphs">Relapsed</text>
<text x="100.25" y="250.30" font-size="6.5" text-anchor="middle" fill="#231f20" stroke="#231f20" stroke-width="0.12" textLength="24.1" lengthAdjust="spacingAndGlyphs">(N = 170)</text>
<text x="68.70" y="216.00" font-size="5.2" text-anchor="start" fill="#231f20" stroke="#231f20" stroke-width="0.1" textLength="22.2" lengthAdjust="spacingAndGlyphs">p &lt; 0.0001</text>
<text transform="translate(132.27,163.9) scale(0.7,1)" font-size="11.0" fill="#231f20" stroke="#231f20" stroke-width="0.05">F</text>
<text transform="translate(147.80,201.6) rotate(-90)" font-size="7.6" text-anchor="middle" fill="#231f20" stroke="#231f20" stroke-width="0.25" textLength="91.0" lengthAdjust="spacingAndGlyphs">Percent donor CD15+ cells</text>
<path transform="translate(0,0.6)" d="M192.50,173.30C194.28,173.30 201.53,173.25 203.20,173.30C204.87,173.35 203.20,173.40 202.50,173.59C201.80,173.78 200.00,174.14 199.00,174.46C198.00,174.78 197.25,175.12 196.50,175.50C195.75,175.89 195.03,176.36 194.50,176.78C193.97,177.20 193.57,177.13 193.30,178.00C193.03,178.87 192.98,176.98 192.90,182.00C192.82,187.02 192.87,202.30 192.80,208.10C192.73,213.90 192.55,215.35 192.50,216.80C192.45,218.25 192.50,216.80 192.50,216.80C192.50,216.80 192.55,218.25 192.50,216.80C192.45,215.35 192.27,213.90 192.20,208.10C192.13,202.30 192.18,187.02 192.10,182.00C192.02,176.98 191.97,178.87 191.70,178.00C191.43,177.13 191.03,177.20 190.50,176.78C189.97,176.36 189.25,175.89 188.50,175.50C187.75,175.12 187.00,174.78 186.00,174.46C185.00,174.14 183.20,173.78 182.50,173.59C181.80,173.40 180.13,173.35 181.80,173.30C183.47,173.25 190.72,173.30 192.50,173.30Z" fill="#fff" stroke="#b23a4a" stroke-width="0.85"/>
<path d="M182.10,174.13H202.90" stroke="#b23a4a" stroke-width="1.0"/>
<path transform="translate(0,0.6)" d="M226.00,173.30C227.77,173.30 234.82,173.25 236.60,173.30C238.38,173.35 236.73,173.20 236.70,173.59C236.67,173.98 236.58,174.99 236.40,175.62C236.22,176.25 236.00,176.78 235.60,177.36C235.20,177.94 234.68,178.58 234.00,179.10C233.32,179.62 232.42,179.84 231.50,180.49C230.58,181.14 229.13,181.94 228.50,182.99C227.87,184.03 227.92,185.08 227.70,186.76C227.48,188.43 227.34,190.94 227.20,193.02C227.06,195.10 226.97,195.75 226.85,199.23C226.73,202.71 226.64,209.09 226.50,213.90C226.36,218.71 226.08,225.74 226.00,228.11C225.92,230.48 226.00,228.11 226.00,228.11C226.00,228.11 226.08,230.48 226.00,228.11C225.92,225.74 225.64,218.71 225.50,213.90C225.36,209.09 225.27,202.71 225.15,199.23C225.03,195.75 224.94,195.10 224.80,193.02C224.66,190.94 224.52,188.43 224.30,186.76C224.08,185.08 224.13,184.03 223.50,182.99C222.87,181.94 221.42,181.14 220.50,180.49C219.58,179.84 218.68,179.62 218.00,179.10C217.32,178.58 216.80,177.94 216.40,177.36C216.00,176.78 215.78,176.25 215.60,175.62C215.42,174.99 215.33,173.98 215.30,173.59C215.27,173.20 213.62,173.35 215.40,173.30C217.18,173.25 224.23,173.30 226.00,173.30Z" fill="#fff" stroke="#b23a4a" stroke-width="0.85"/>
<path d="M215.70,174.13H236.30" stroke="#b23a4a" stroke-width="1.0"/>
<path d="M215.80,174.60H236.20" stroke="#b23a4a" stroke-width="0.6" stroke-dasharray="0.7,0.7"/>
<path d="M216.40,177.67H235.60" stroke="#b23a4a" stroke-width="0.6"/>
<path d="M192.50,197.10H192.50" stroke="#b23a4a" stroke-width="0.6"/>
<path d="M170.50,170.3V231.5H247.50" fill="none" stroke="#231f20" stroke-width="1.25"/>
<path d="M167.50,231.30H170.50" stroke="#231f20" stroke-width="0.8"/>
<text x="165.00" y="233.30" font-size="5.6" text-anchor="end" fill="#231f20" stroke="#231f20" stroke-width="0.12">0</text>
<path d="M167.50,216.80H170.50" stroke="#231f20" stroke-width="0.8"/>
<text x="165.00" y="218.80" font-size="5.6" text-anchor="end" fill="#231f20" stroke="#231f20" stroke-width="0.12">25</text>
<path d="M167.50,202.30H170.50" stroke="#231f20" stroke-width="0.8"/>
<text x="165.00" y="204.30" font-size="5.6" text-anchor="end" fill="#231f20" stroke="#231f20" stroke-width="0.12">50</text>
<path d="M167.50,187.80H170.50" stroke="#231f20" stroke-width="0.8"/>
<text x="165.00" y="189.80" font-size="5.6" text-anchor="end" fill="#231f20" stroke="#231f20" stroke-width="0.12">75</text>
<path d="M167.50,173.30H170.50" stroke="#231f20" stroke-width="0.8"/>
<text x="165.00" y="175.30" font-size="5.6" text-anchor="end" fill="#231f20" stroke="#231f20" stroke-width="0.12">100</text>
<path d="M192.50,231.3V234.10000000000002" stroke="#231f20" stroke-width="0.8"/>
<text x="192.50" y="242.70" font-size="6.5" text-anchor="middle" fill="#231f20" stroke="#231f20" stroke-width="0.12" textLength="32.9" lengthAdjust="spacingAndGlyphs">Not relapsed</text>
<text x="192.50" y="250.30" font-size="6.5" text-anchor="middle" fill="#231f20" stroke="#231f20" stroke-width="0.12" textLength="24.1" lengthAdjust="spacingAndGlyphs">(N = 110)</text>
<path d="M226.00,231.3V234.10000000000002" stroke="#231f20" stroke-width="0.8"/>
<text x="226.00" y="242.70" font-size="6.5" text-anchor="middle" fill="#231f20" stroke="#231f20" stroke-width="0.12" textLength="23.6" lengthAdjust="spacingAndGlyphs">Relapsed</text>
<text x="226.00" y="250.30" font-size="6.5" text-anchor="middle" fill="#231f20" stroke="#231f20" stroke-width="0.12" textLength="24.1" lengthAdjust="spacingAndGlyphs">(N = 170)</text>
<text x="198.80" y="216.00" font-size="5.2" text-anchor="start" fill="#231f20" stroke="#231f20" stroke-width="0.1" textLength="22.5" lengthAdjust="spacingAndGlyphs">p &lt; 0.0001</text>
<text transform="translate(261.78,163.9) scale(0.8,1)" font-size="11.0" fill="#231f20" stroke="#231f20" stroke-width="0.05">G</text>
<text transform="translate(277.30,201.6) rotate(-90)" font-size="7.6" text-anchor="middle" fill="#231f20" stroke="#231f20" stroke-width="0.25" textLength="87.1" lengthAdjust="spacingAndGlyphs">Percent donor CD3+ cells</text>
<path transform="translate(0,0.6)" d="M321.90,173.30C323.65,173.30 330.68,173.25 332.40,173.30C334.12,173.35 332.53,173.40 332.20,173.59C331.87,173.78 331.08,174.14 330.40,174.46C329.72,174.78 329.07,174.91 328.10,175.50C327.13,176.09 325.38,177.17 324.60,178.00C323.82,178.83 323.71,179.03 323.40,180.49C323.09,181.95 322.90,184.09 322.75,186.76C322.60,189.42 322.64,192.85 322.50,196.50C322.36,200.15 322.00,206.65 321.90,208.68C321.80,210.71 321.90,208.68 321.90,208.68C321.90,208.68 322.00,210.71 321.90,208.68C321.80,206.65 321.44,200.15 321.30,196.50C321.16,192.85 321.20,189.42 321.05,186.76C320.90,184.09 320.71,181.95 320.40,180.49C320.09,179.03 319.98,178.83 319.20,178.00C318.42,177.17 316.67,176.09 315.70,175.50C314.73,174.91 314.08,174.78 313.40,174.46C312.72,174.14 311.93,173.78 311.60,173.59C311.27,173.40 309.68,173.35 311.40,173.30C313.12,173.25 320.15,173.30 321.90,173.30Z" fill="#fff" stroke="#b23a4a" stroke-width="0.85"/>
<path d="M311.70,174.13H332.10" stroke="#b23a4a" stroke-width="1.0"/>
<path transform="translate(0,0.6)" d="M355.00,173.30C356.77,173.30 363.82,173.25 365.60,173.30C367.38,173.35 365.72,173.25 365.70,173.59C365.68,173.93 365.70,174.76 365.50,175.33C365.30,175.90 364.88,176.38 364.50,177.01C364.12,177.64 363.70,178.52 363.20,179.10C362.70,179.68 362.10,179.88 361.50,180.49C360.90,181.10 360.27,181.71 359.60,182.75C358.93,183.80 358.05,185.05 357.50,186.76C356.95,188.47 356.60,190.94 356.30,193.02C356.00,195.10 355.85,196.23 355.70,199.23C355.55,202.22 355.52,207.39 355.40,211.00C355.28,214.61 355.07,219.22 355.00,220.86C354.93,222.50 355.00,220.86 355.00,220.86C355.00,220.86 355.07,222.50 355.00,220.86C354.93,219.22 354.72,214.61 354.60,211.00C354.48,207.39 354.45,202.22 354.30,199.23C354.15,196.23 354.00,195.10 353.70,193.02C353.40,190.94 353.05,188.47 352.50,186.76C351.95,185.05 351.07,183.80 350.40,182.75C349.73,181.71 349.10,181.10 348.50,180.49C347.90,179.88 347.30,179.68 346.80,179.10C346.30,178.52 345.88,177.64 345.50,177.01C345.12,176.38 344.70,175.90 344.50,175.33C344.30,174.76 344.32,173.93 344.30,173.59C344.28,173.25 342.62,173.35 344.40,173.30C346.18,173.25 353.23,173.30 355.00,173.30Z" fill="#fff" stroke="#b23a4a" stroke-width="0.85"/>
<path d="M344.70,174.13H365.30" stroke="#b23a4a" stroke-width="1.0"/>
<path d="M317.40,177.09H326.40" stroke="#b23a4a" stroke-width="0.6" stroke-dasharray="1.2,0.8"/>
<path d="M345.50,177.61H364.50" stroke="#b23a4a" stroke-width="0.6"/>
<path d="M350.60,183.35H359.40" stroke="#b23a4a" stroke-width="0.6" stroke-dasharray="1.2,0.8"/>
<path d="M300.00,170.3V231.5H377.00" fill="none" stroke="#231f20" stroke-width="1.25"/>
<path d="M297.00,231.30H300.00" stroke="#231f20" stroke-width="0.8"/>
<text x="294.50" y="233.30" font-size="5.6" text-anchor="end" fill="#231f20" stroke="#231f20" stroke-width="0.12">0</text>
<path d="M297.00,216.80H300.00" stroke="#231f20" stroke-width="0.8"/>
<text x="294.50" y="218.80" font-size="5.6" text-anchor="end" fill="#231f20" stroke="#231f20" stroke-width="0.12">25</text>
<path d="M297.00,202.30H300.00" stroke="#231f20" stroke-width="0.8"/>
<text x="294.50" y="204.30" font-size="5.6" text-anchor="end" fill="#231f20" stroke="#231f20" stroke-width="0.12">50</text>
<path d="M297.00,187.80H300.00" stroke="#231f20" stroke-width="0.8"/>
<text x="294.50" y="189.80" font-size="5.6" text-anchor="end" fill="#231f20" stroke="#231f20" stroke-width="0.12">75</text>
<path d="M297.00,173.30H300.00" stroke="#231f20" stroke-width="0.8"/>
<text x="294.50" y="175.30" font-size="5.6" text-anchor="end" fill="#231f20" stroke="#231f20" stroke-width="0.12">100</text>
<path d="M321.90,231.3V234.10000000000002" stroke="#231f20" stroke-width="0.8"/>
<text x="321.90" y="242.70" font-size="6.5" text-anchor="middle" fill="#231f20" stroke="#231f20" stroke-width="0.12" textLength="32.9" lengthAdjust="spacingAndGlyphs">Not relapsed</text>
<text x="321.90" y="250.30" font-size="6.5" text-anchor="middle" fill="#231f20" stroke="#231f20" stroke-width="0.12" textLength="24.1" lengthAdjust="spacingAndGlyphs">(N = 139)</text>
<path d="M355.00,231.3V234.10000000000002" stroke="#231f20" stroke-width="0.8"/>
<text x="355.00" y="242.70" font-size="6.5" text-anchor="middle" fill="#231f20" stroke="#231f20" stroke-width="0.12" textLength="23.6" lengthAdjust="spacingAndGlyphs">Relapsed</text>
<text x="355.00" y="250.30" font-size="6.5" text-anchor="middle" fill="#231f20" stroke="#231f20" stroke-width="0.12" textLength="24.1" lengthAdjust="spacingAndGlyphs">(N = 128)</text>
<text x="326.00" y="216.00" font-size="5.2" text-anchor="start" fill="#231f20" stroke="#231f20" stroke-width="0.1" textLength="20.0" lengthAdjust="spacingAndGlyphs">p = 0.007</text>
<text transform="translate(386.79,163.9) scale(0.9,1)" font-size="11.0" fill="#231f20" stroke="#231f20" stroke-width="0.05">H</text>
<text transform="translate(402.60,201.6) rotate(-90)" font-size="7.6" text-anchor="middle" fill="#231f20" stroke="#231f20" stroke-width="0.25" textLength="91.0" lengthAdjust="spacingAndGlyphs">Percent donor CD19+ cells</text>
<path transform="translate(0,0.6)" d="M447.75,173.30C449.48,173.30 456.42,173.25 458.10,173.30C459.78,173.35 458.33,173.40 457.85,173.59C457.38,173.78 456.07,174.14 455.25,174.46C454.43,174.78 453.82,174.91 452.95,175.50C452.08,176.09 450.69,177.17 450.05,178.00C449.41,178.83 449.30,179.54 449.10,180.49C448.90,181.45 448.88,182.91 448.85,183.74C448.83,184.57 448.97,184.90 448.95,185.48C448.93,186.06 448.85,185.96 448.75,187.22C448.65,188.48 448.45,189.54 448.35,193.02C448.25,196.50 448.25,202.54 448.15,208.10C448.05,213.66 447.82,223.33 447.75,226.37C447.68,229.41 447.75,226.37 447.75,226.37C447.75,226.37 447.82,229.41 447.75,226.37C447.68,223.33 447.45,213.66 447.35,208.10C447.25,202.54 447.25,196.50 447.15,193.02C447.05,189.54 446.85,188.48 446.75,187.22C446.65,185.96 446.57,186.06 446.55,185.48C446.53,184.90 446.67,184.57 446.65,183.74C446.62,182.91 446.60,181.45 446.40,180.49C446.20,179.54 446.09,178.83 445.45,178.00C444.81,177.17 443.42,176.09 442.55,175.50C441.68,174.91 441.07,174.78 440.25,174.46C439.43,174.14 438.12,173.78 437.65,173.59C437.17,173.40 435.72,173.35 437.40,173.30C439.08,173.25 446.02,173.30 447.75,173.30Z" fill="#fff" stroke="#b23a4a" stroke-width="0.85"/>
<path d="M437.70,174.13H457.80" stroke="#b23a4a" stroke-width="1.0"/>
<path transform="translate(0,0.6)" d="M481.00,173.30C482.77,173.30 489.87,173.25 491.60,173.30C493.33,173.35 491.58,173.40 491.40,173.59C491.22,173.78 490.73,174.14 490.50,174.46C490.27,174.78 490.60,175.02 490.00,175.50C489.40,175.99 487.95,176.53 486.90,177.36C485.85,178.19 484.43,178.93 483.70,180.49C482.97,182.06 482.81,184.67 482.50,186.76C482.19,188.84 482.03,189.46 481.85,193.02C481.68,196.58 481.54,201.72 481.45,208.10C481.36,214.48 481.38,227.43 481.30,231.30C481.23,235.17 481.10,231.30 481.00,231.30C480.90,231.30 480.77,235.17 480.70,231.30C480.62,227.43 480.64,214.48 480.55,208.10C480.46,201.72 480.32,196.58 480.15,193.02C479.97,189.46 479.81,188.84 479.50,186.76C479.19,184.67 479.03,182.06 478.30,180.49C477.57,178.93 476.15,178.19 475.10,177.36C474.05,176.53 472.60,175.99 472.00,175.50C471.40,175.02 471.73,174.78 471.50,174.46C471.27,174.14 470.78,173.78 470.60,173.59C470.42,173.40 468.67,173.35 470.40,173.30C472.13,173.25 479.23,173.30 481.00,173.30Z" fill="#fff" stroke="#b23a4a" stroke-width="0.85"/>
<path d="M470.70,174.13H491.30" stroke="#b23a4a" stroke-width="1.0"/>
<path d="M470.80,174.48H491.20" stroke="#b23a4a" stroke-width="0.6"/>
<path d="M425.30,170.3V231.5H502.30" fill="none" stroke="#231f20" stroke-width="1.25"/>
<path d="M422.30,231.30H425.30" stroke="#231f20" stroke-width="0.8"/>
<text x="419.80" y="233.30" font-size="5.6" text-anchor="end" fill="#231f20" stroke="#231f20" stroke-width="0.12">0</text>
<path d="M422.30,216.80H425.30" stroke="#231f20" stroke-width="0.8"/>
<text x="419.80" y="218.80" font-size="5.6" text-anchor="end" fill="#231f20" stroke="#231f20" stroke-width="0.12">25</text>
<path d="M422.30,202.30H425.30" stroke="#231f20" stroke-width="0.8"/>
<text x="419.80" y="204.30" font-size="5.6" text-anchor="end" fill="#231f20" stroke="#231f20" stroke-width="0.12">50</text>
<path d="M422.30,187.80H425.30" stroke="#231f20" stroke-width="0.8"/>
<text x="419.80" y="189.80" font-size="5.6" text-anchor="end" fill="#231f20" stroke="#231f20" stroke-width="0.12">75</text>
<path d="M422.30,173.30H425.30" stroke="#231f20" stroke-width="0.8"/>
<text x="419.80" y="175.30" font-size="5.6" text-anchor="end" fill="#231f20" stroke="#231f20" stroke-width="0.12">100</text>
<path d="M447.75,231.3V234.10000000000002" stroke="#231f20" stroke-width="0.8"/>
<text x="447.75" y="242.70" font-size="6.5" text-anchor="middle" fill="#231f20" stroke="#231f20" stroke-width="0.12" textLength="32.9" lengthAdjust="spacingAndGlyphs">Not relapsed</text>
<text x="447.75" y="250.30" font-size="6.5" text-anchor="middle" fill="#231f20" stroke="#231f20" stroke-width="0.12" textLength="24.1" lengthAdjust="spacingAndGlyphs">(N = 139)</text>
<path d="M481.00,231.3V234.10000000000002" stroke="#231f20" stroke-width="0.8"/>
<text x="481.00" y="242.70" font-size="6.5" text-anchor="middle" fill="#231f20" stroke="#231f20" stroke-width="0.12" textLength="23.6" lengthAdjust="spacingAndGlyphs">Relapsed</text>
<text x="481.00" y="250.30" font-size="6.5" text-anchor="middle" fill="#231f20" stroke="#231f20" stroke-width="0.12" textLength="24.1" lengthAdjust="spacingAndGlyphs">(N = 128)</text>
<text x="453.00" y="216.00" font-size="5.2" text-anchor="start" fill="#231f20" stroke="#231f20" stroke-width="0.1" textLength="17.5" lengthAdjust="spacingAndGlyphs">p = 0.43</text>
</svg>
</body></html>
